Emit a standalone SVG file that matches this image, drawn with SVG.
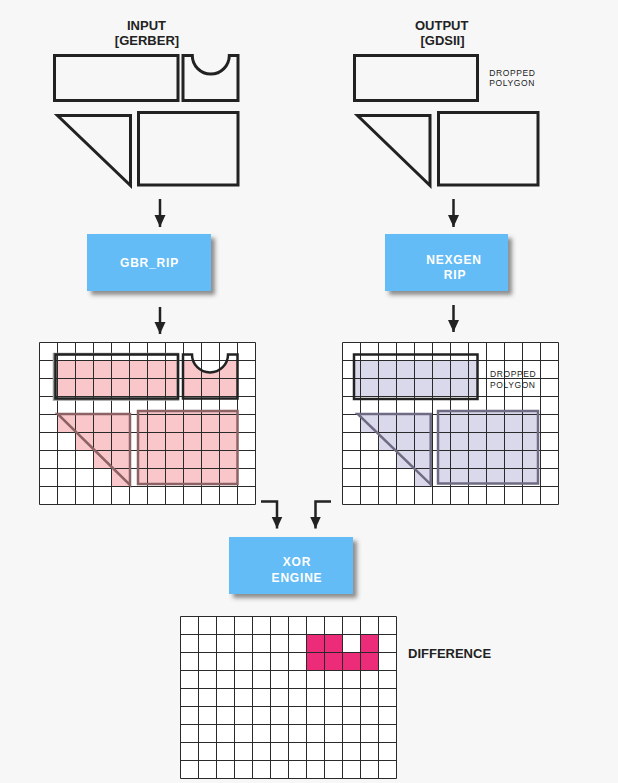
<svg xmlns="http://www.w3.org/2000/svg" xmlns:xlink="http://www.w3.org/1999/xlink" width="618" height="783" viewBox="0 0 618 783">
<defs>
<style>
.title{font-family:"Liberation Sans",Arial,sans-serif;font-weight:bold;font-size:13px;fill:#222;text-anchor:middle}
.small{font-family:"Liberation Sans",Arial,sans-serif;font-size:8.5px;fill:#222;letter-spacing:0.6px}
.boxtxt{font-family:"Liberation Sans",Arial,sans-serif;font-weight:bold;font-size:12px;fill:#fff;text-anchor:middle;letter-spacing:0.8px}
.box{fill:#63BCF5;filter:url(#shadow)}
.shape{fill:none;stroke:#222;stroke-width:3}
.gridline{fill:none;stroke:#2a2a2a;stroke-width:1}
.cells{fill:#fff}
.conn{fill:none;stroke:#222;stroke-width:2.5}
.pink{fill:#F9C6CA}
.lav{fill:#DAD9EC}
.brown{fill:none;stroke:#8C6264;stroke-width:2.5}
.purp{fill:none;stroke:#6F6B82;stroke-width:2.5}
.diff{fill:#EC2C78}
</style>
<filter id="shadow" x="-10%" y="-10%" width="130%" height="140%">
<feDropShadow dx="4" dy="4" stdDeviation="2" flood-color="#444" flood-opacity="0.6"/>
</filter>
<marker id="arrow" markerUnits="userSpaceOnUse" markerWidth="13" markerHeight="12" refX="12" refY="6" orient="auto">
<path d="M0,0.5 L12,6 L0,11.5 Z" fill="#222"/>
</marker>
<path id="grid" d="M0,0V162M18,0V162M36,0V162M54,0V162M72,0V162M90,0V162M108,0V162M126,0V162M144,0V162M162,0V162M180,0V162M198,0V162M216,0V162M0,0H216M0,18H216M0,36H216M0,54H216M0,72H216M0,90H216M0,108H216M0,126H216M0,144H216M0,162H216"/>
</defs>
<rect width="618" height="783" fill="#F7F7F7"/>

<g id="input-title">
<text class="title" x="146.5" y="29.5">INPUT</text>
<text class="title" x="147" y="44.5">[GERBER]</text>
</g>
<g id="input-shapes">
<rect class="shape" x="54.5" y="55.5" width="123.5" height="45"/>
<path class="shape" d="M183,55.5 H192.3 A18.5,18.5 0 0 0 229.3,55.5 H238 V100.5 H183 Z"/>
<path class="shape" d="M57.5,115.5 H130.5 V185.5 Z"/>
<rect class="shape" x="138.5" y="112.5" width="99.5" height="72.5"/>
</g>

<g id="output-title">
<text class="title" x="441.7" y="29.5">OUTPUT</text>
<text class="title" x="442.5" y="44.5">[GDSII]</text>
</g>
<g id="output-shapes">
<rect class="shape" x="354.5" y="55.5" width="123" height="45"/>
<text class="small" x="489.3" y="75.5">DROPPED</text>
<text class="small" x="489.3" y="86.2">POLYGON</text>
<path class="shape" d="M357.5,115.5 H430 V185.5 Z"/>
<rect class="shape" x="438.5" y="112.5" width="99.5" height="72.5"/>
</g>

<g id="gbr-rip">
<rect class="box" x="87" y="234" width="124" height="57"/>
<text class="boxtxt" x="149.5" y="267">GBR_RIP</text>
</g>
<g id="nexgen-rip">
<rect class="box" x="385" y="234" width="123" height="57"/>
<text class="boxtxt" x="454" y="264">NEXGEN</text>
<text class="boxtxt" x="455" y="278.5">RIP</text>
</g>

<g id="input-raster">
<rect class="cells" x="39.5" y="342.5" width="216" height="162"/>
<rect class="pink" x="56.5" y="360.5" width="121.5" height="36"/>
<path class="pink" d="M183,360.5 H193.2 A18,18 0 0 0 226.8,360.5 H237.5 V396.5 H183 Z"/>
<path class="pink" d="M57.5,414.5 H130 V486 H111.5 V468.5 H93.5 V450.5 H75.5 V432.5 H57.5 Z"/>
<rect class="pink" x="138" y="411" width="99.5" height="73"/>
<use href="#grid" xlink:href="#grid" x="39.5" y="342.5" class="gridline"/>
<rect x="54" y="354" width="124" height="45.5" fill="none" stroke="#999" stroke-width="2.5"/>
<rect x="55.5" y="354.5" width="122.5" height="44" fill="none" stroke="#222" stroke-width="2.5"/>
<path fill="none" stroke="#222" stroke-width="2.5" d="M183,354.5 H192 A18,18 0 0 0 228,354.5 H237.5 V398.5 H183 Z"/>
<path class="brown" d="M57.7,414 H130 V485 Z"/>
<rect class="brown" x="138" y="411" width="99.5" height="73"/>
</g>

<g id="output-raster">
<rect class="cells" x="342.5" y="342.5" width="216" height="162"/>
<rect class="lav" x="355" y="360.5" width="121.5" height="36"/>
<path class="lav" d="M360.5,414.5 H430.7 V486 H414.5 V468.5 H396.5 V450.5 H378.5 V432.5 H360.5 Z"/>
<rect class="lav" x="438" y="411" width="100" height="72.5"/>
<use href="#grid" xlink:href="#grid" x="342.5" y="342.5" class="gridline"/>
<rect x="354" y="354.5" width="123.5" height="44.5" fill="none" stroke="#222" stroke-width="2.5"/>
<text class="small" x="490" y="377">DROPPED</text>
<text class="small" x="490" y="387.5">POLYGON</text>
<path class="purp" d="M357.7,414 H430.7 V484.3 Z"/>
<rect class="purp" x="438" y="411" width="100" height="72.5"/>
</g>

<g id="xor-engine">
<rect class="box" x="229" y="537" width="124" height="57"/>
<text class="boxtxt" x="297" y="566">XOR</text>
<text class="boxtxt" x="297" y="582">ENGINE</text>
</g>

<g id="difference">
<rect class="cells" x="180.5" y="616.5" width="216" height="162"/>
<rect class="diff" x="306.5" y="634.5" width="36" height="18"/>
<rect class="diff" x="360.5" y="634.5" width="18" height="18"/>
<rect class="diff" x="306.5" y="652.5" width="72" height="18"/>
<use href="#grid" xlink:href="#grid" x="180.5" y="616.5" class="gridline"/>
<text class="title" x="408" y="658" style="text-anchor:start">DIFFERENCE</text>
</g>

<g id="connectors">
<path class="conn" d="M160,199 V227" marker-end="url(#arrow)"/>
<path class="conn" d="M160,307 V334" marker-end="url(#arrow)"/>
<path class="conn" d="M453.5,199 V227" marker-end="url(#arrow)"/>
<path class="conn" d="M453.5,305 V332" marker-end="url(#arrow)"/>
<path class="conn" d="M261,501.5 H277 V528.5" marker-end="url(#arrow)"/>
<path class="conn" d="M331,501.5 H315.5 V528.5" marker-end="url(#arrow)"/>
</g>
</svg>
